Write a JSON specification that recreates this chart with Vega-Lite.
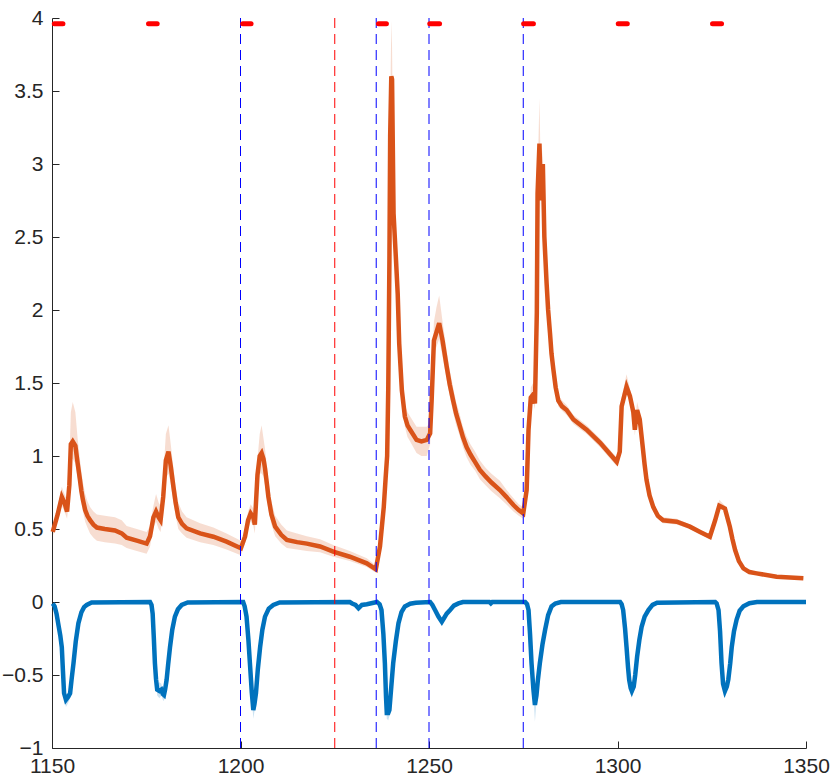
{
  "$schema": "https://vega.github.io/schema/vega-lite/v6.json",
  "description": "Two averaged traces with shaded error bands, event markers and dashed event lines.",
  "width": 754,
  "height": 730,
  "autosize": "none",
  "padding": {"left": 52, "top": 18, "right": 27, "bottom": 33},
  "background": "white",
  "datasets": {
    "orange": [
      {"x": 1150.2, "y": 0.48, "lo": 0.45, "hi": 0.51},
      {"x": 1151.5, "y": 0.6, "lo": 0.56, "hi": 0.65},
      {"x": 1152.6, "y": 0.72, "lo": 0.66, "hi": 0.79},
      {"x": 1153.3, "y": 0.68, "lo": 0.62, "hi": 0.74},
      {"x": 1154.0, "y": 0.62, "lo": 0.57, "hi": 0.7},
      {"x": 1154.6, "y": 0.8, "lo": 0.72, "hi": 0.95},
      {"x": 1155.0, "y": 1.08, "lo": 0.98, "hi": 1.3},
      {"x": 1155.5, "y": 1.1, "lo": 0.98, "hi": 1.37},
      {"x": 1156.2, "y": 1.07, "lo": 0.95, "hi": 1.3},
      {"x": 1156.8, "y": 0.95, "lo": 0.85, "hi": 1.12},
      {"x": 1157.4, "y": 0.84, "lo": 0.75, "hi": 0.98},
      {"x": 1157.8, "y": 0.76, "lo": 0.68, "hi": 0.89},
      {"x": 1158.2, "y": 0.7, "lo": 0.62, "hi": 0.82},
      {"x": 1158.8, "y": 0.63, "lo": 0.55, "hi": 0.74},
      {"x": 1159.4, "y": 0.59, "lo": 0.51, "hi": 0.69},
      {"x": 1160.1, "y": 0.56, "lo": 0.47, "hi": 0.65},
      {"x": 1161.0, "y": 0.53, "lo": 0.44, "hi": 0.62},
      {"x": 1161.9, "y": 0.51, "lo": 0.42, "hi": 0.6},
      {"x": 1164.0, "y": 0.5, "lo": 0.41, "hi": 0.59},
      {"x": 1166.7, "y": 0.49, "lo": 0.4, "hi": 0.58},
      {"x": 1168.5, "y": 0.47, "lo": 0.39, "hi": 0.56},
      {"x": 1169.8, "y": 0.44, "lo": 0.37, "hi": 0.52},
      {"x": 1172.5, "y": 0.42, "lo": 0.35, "hi": 0.5},
      {"x": 1175.1, "y": 0.4, "lo": 0.33, "hi": 0.48},
      {"x": 1176.0, "y": 0.45, "lo": 0.38, "hi": 0.52},
      {"x": 1176.9, "y": 0.58, "lo": 0.51, "hi": 0.66},
      {"x": 1177.6, "y": 0.62, "lo": 0.55, "hi": 0.74},
      {"x": 1178.3, "y": 0.58, "lo": 0.5, "hi": 0.68},
      {"x": 1178.8, "y": 0.56, "lo": 0.48, "hi": 0.66},
      {"x": 1179.5, "y": 0.72, "lo": 0.62, "hi": 0.86},
      {"x": 1180.2, "y": 0.97, "lo": 0.85, "hi": 1.15},
      {"x": 1180.9, "y": 1.03, "lo": 0.88, "hi": 1.21},
      {"x": 1181.5, "y": 0.93, "lo": 0.81, "hi": 1.08},
      {"x": 1182.2, "y": 0.79, "lo": 0.68, "hi": 0.92},
      {"x": 1182.8, "y": 0.68, "lo": 0.59, "hi": 0.79},
      {"x": 1183.5, "y": 0.58, "lo": 0.5, "hi": 0.68},
      {"x": 1184.5, "y": 0.535, "lo": 0.47, "hi": 0.62},
      {"x": 1185.7, "y": 0.505, "lo": 0.44, "hi": 0.58},
      {"x": 1189.3, "y": 0.47, "lo": 0.41, "hi": 0.54},
      {"x": 1192.8, "y": 0.447, "lo": 0.39, "hi": 0.51},
      {"x": 1196.3, "y": 0.413, "lo": 0.36, "hi": 0.47},
      {"x": 1200.1, "y": 0.368, "lo": 0.32, "hi": 0.42},
      {"x": 1201.2, "y": 0.447, "lo": 0.4, "hi": 0.5},
      {"x": 1202.0, "y": 0.56, "lo": 0.5, "hi": 0.62},
      {"x": 1202.7, "y": 0.607, "lo": 0.55, "hi": 0.67},
      {"x": 1203.4, "y": 0.58, "lo": 0.52, "hi": 0.64},
      {"x": 1203.8, "y": 0.53, "lo": 0.47, "hi": 0.6},
      {"x": 1204.5, "y": 0.87, "lo": 0.78, "hi": 0.98},
      {"x": 1205.1, "y": 1.0, "lo": 0.88, "hi": 1.15},
      {"x": 1205.6, "y": 1.02, "lo": 0.88, "hi": 1.21},
      {"x": 1206.1, "y": 0.98, "lo": 0.86, "hi": 1.12},
      {"x": 1206.5, "y": 0.916, "lo": 0.8, "hi": 1.05},
      {"x": 1207.0, "y": 0.81, "lo": 0.71, "hi": 0.93},
      {"x": 1207.4, "y": 0.72, "lo": 0.63, "hi": 0.83},
      {"x": 1208.2, "y": 0.6, "lo": 0.53, "hi": 0.69},
      {"x": 1209.2, "y": 0.516, "lo": 0.45, "hi": 0.59},
      {"x": 1210.8, "y": 0.46, "lo": 0.4, "hi": 0.53},
      {"x": 1212.3, "y": 0.425, "lo": 0.37, "hi": 0.49},
      {"x": 1215.0, "y": 0.41, "lo": 0.36, "hi": 0.47},
      {"x": 1217.6, "y": 0.4, "lo": 0.35, "hi": 0.45},
      {"x": 1221.1, "y": 0.38, "lo": 0.34, "hi": 0.43},
      {"x": 1224.6, "y": 0.345, "lo": 0.31, "hi": 0.39},
      {"x": 1229.0, "y": 0.31, "lo": 0.28, "hi": 0.35},
      {"x": 1233.5, "y": 0.265, "lo": 0.24, "hi": 0.3},
      {"x": 1235.9, "y": 0.224, "lo": 0.2, "hi": 0.25},
      {"x": 1237.0, "y": 0.38, "lo": 0.35, "hi": 0.42},
      {"x": 1238.0, "y": 0.65, "lo": 0.6, "hi": 0.7},
      {"x": 1238.5, "y": 0.85, "lo": 0.8, "hi": 0.9},
      {"x": 1238.9, "y": 1.0, "lo": 0.95, "hi": 1.05},
      {"x": 1239.2, "y": 1.47, "lo": 1.4, "hi": 1.55},
      {"x": 1239.5, "y": 2.34, "lo": 2.25, "hi": 2.45},
      {"x": 1239.7, "y": 3.19, "lo": 3.05, "hi": 3.35},
      {"x": 1240.0, "y": 3.6, "lo": 3.45, "hi": 3.98},
      {"x": 1240.2, "y": 3.58, "lo": 3.45, "hi": 3.8},
      {"x": 1240.4, "y": 3.12, "lo": 3.0, "hi": 3.3},
      {"x": 1240.6, "y": 2.66, "lo": 2.55, "hi": 2.8},
      {"x": 1241.2, "y": 2.365, "lo": 2.28, "hi": 2.45},
      {"x": 1241.7, "y": 2.11, "lo": 2.03, "hi": 2.19},
      {"x": 1242.1, "y": 1.77, "lo": 1.7, "hi": 1.85},
      {"x": 1242.8, "y": 1.45, "lo": 1.38, "hi": 1.52},
      {"x": 1243.6, "y": 1.27, "lo": 1.2, "hi": 1.35},
      {"x": 1244.3, "y": 1.21, "lo": 1.13, "hi": 1.3},
      {"x": 1245.0, "y": 1.18, "lo": 1.1, "hi": 1.27},
      {"x": 1246.7, "y": 1.11, "lo": 1.02, "hi": 1.2},
      {"x": 1248.0, "y": 1.1, "lo": 1.0, "hi": 1.2},
      {"x": 1249.4, "y": 1.11, "lo": 1.0, "hi": 1.2},
      {"x": 1250.3, "y": 1.155, "lo": 1.08, "hi": 1.23},
      {"x": 1250.7, "y": 1.38, "lo": 1.3, "hi": 1.47},
      {"x": 1251.3, "y": 1.79, "lo": 1.7, "hi": 1.92},
      {"x": 1252.0, "y": 1.85, "lo": 1.75, "hi": 2.02},
      {"x": 1252.7, "y": 1.91, "lo": 1.8, "hi": 2.1},
      {"x": 1253.6, "y": 1.79, "lo": 1.68, "hi": 1.92},
      {"x": 1254.7, "y": 1.61, "lo": 1.52, "hi": 1.72},
      {"x": 1255.5, "y": 1.49, "lo": 1.41, "hi": 1.59},
      {"x": 1256.4, "y": 1.38, "lo": 1.3, "hi": 1.47},
      {"x": 1257.2, "y": 1.29, "lo": 1.21, "hi": 1.37},
      {"x": 1258.0, "y": 1.22, "lo": 1.15, "hi": 1.3},
      {"x": 1259.0, "y": 1.13, "lo": 1.06, "hi": 1.2},
      {"x": 1260.0, "y": 1.06, "lo": 0.99, "hi": 1.13},
      {"x": 1261.0, "y": 1.01, "lo": 0.94, "hi": 1.08},
      {"x": 1262.2, "y": 0.96, "lo": 0.9, "hi": 1.03},
      {"x": 1263.5, "y": 0.904, "lo": 0.84, "hi": 0.97},
      {"x": 1265.0, "y": 0.86, "lo": 0.8, "hi": 0.92},
      {"x": 1266.5, "y": 0.82, "lo": 0.76, "hi": 0.88},
      {"x": 1268.8, "y": 0.767, "lo": 0.71, "hi": 0.83},
      {"x": 1270.5, "y": 0.72, "lo": 0.67, "hi": 0.77},
      {"x": 1272.4, "y": 0.664, "lo": 0.62, "hi": 0.71},
      {"x": 1273.8, "y": 0.63, "lo": 0.59, "hi": 0.67},
      {"x": 1275.0, "y": 0.607, "lo": 0.57, "hi": 0.65},
      {"x": 1275.9, "y": 0.767, "lo": 0.73, "hi": 0.8},
      {"x": 1276.4, "y": 1.18, "lo": 1.14, "hi": 1.22},
      {"x": 1277.0, "y": 1.4, "lo": 1.35, "hi": 1.47},
      {"x": 1277.6, "y": 1.42, "lo": 1.37, "hi": 1.5},
      {"x": 1278.1, "y": 1.36, "lo": 1.32, "hi": 1.42},
      {"x": 1278.6, "y": 1.98, "lo": 1.92, "hi": 2.05},
      {"x": 1278.8, "y": 2.8, "lo": 2.72, "hi": 2.9},
      {"x": 1279.3, "y": 3.14, "lo": 3.05, "hi": 3.45},
      {"x": 1279.7, "y": 2.75, "lo": 2.67, "hi": 2.85},
      {"x": 1280.2, "y": 3.0, "lo": 2.92, "hi": 3.1},
      {"x": 1280.6, "y": 2.5, "lo": 2.44, "hi": 2.57},
      {"x": 1281.2, "y": 2.18, "lo": 2.13, "hi": 2.24},
      {"x": 1281.6, "y": 2.0, "lo": 1.95, "hi": 2.05},
      {"x": 1282.1, "y": 1.84, "lo": 1.8, "hi": 1.89},
      {"x": 1282.5, "y": 1.7, "lo": 1.66, "hi": 1.74},
      {"x": 1283.0, "y": 1.59, "lo": 1.55, "hi": 1.63},
      {"x": 1283.6, "y": 1.47, "lo": 1.43, "hi": 1.51},
      {"x": 1284.3, "y": 1.38, "lo": 1.34, "hi": 1.42},
      {"x": 1285.3, "y": 1.34, "lo": 1.31, "hi": 1.38},
      {"x": 1286.5, "y": 1.315, "lo": 1.28, "hi": 1.35},
      {"x": 1288.3, "y": 1.25, "lo": 1.22, "hi": 1.28},
      {"x": 1291.8, "y": 1.18, "lo": 1.15, "hi": 1.21},
      {"x": 1295.4, "y": 1.09, "lo": 1.06, "hi": 1.12},
      {"x": 1299.8, "y": 0.96, "lo": 0.93, "hi": 0.99},
      {"x": 1300.6, "y": 1.03, "lo": 1.0, "hi": 1.07},
      {"x": 1301.1, "y": 1.34, "lo": 1.3, "hi": 1.4},
      {"x": 1302.4, "y": 1.475, "lo": 1.43, "hi": 1.56},
      {"x": 1303.3, "y": 1.41, "lo": 1.37, "hi": 1.46},
      {"x": 1304.2, "y": 1.3, "lo": 1.26, "hi": 1.36},
      {"x": 1304.6, "y": 1.18, "lo": 1.14, "hi": 1.23},
      {"x": 1305.2, "y": 1.315, "lo": 1.27, "hi": 1.37},
      {"x": 1305.9, "y": 1.25, "lo": 1.21, "hi": 1.3},
      {"x": 1306.7, "y": 1.06, "lo": 1.03, "hi": 1.1},
      {"x": 1307.2, "y": 0.94, "lo": 0.91, "hi": 0.97},
      {"x": 1307.7, "y": 0.836, "lo": 0.81, "hi": 0.87},
      {"x": 1308.5, "y": 0.73, "lo": 0.71, "hi": 0.76},
      {"x": 1309.5, "y": 0.65, "lo": 0.63, "hi": 0.68},
      {"x": 1310.7, "y": 0.59, "lo": 0.57, "hi": 0.61},
      {"x": 1312.1, "y": 0.56, "lo": 0.54, "hi": 0.58},
      {"x": 1315.7, "y": 0.55, "lo": 0.53, "hi": 0.57},
      {"x": 1319.2, "y": 0.516, "lo": 0.5, "hi": 0.53},
      {"x": 1321.9, "y": 0.48, "lo": 0.465, "hi": 0.495},
      {"x": 1324.5, "y": 0.447, "lo": 0.43, "hi": 0.46},
      {"x": 1325.9, "y": 0.56, "lo": 0.54, "hi": 0.58},
      {"x": 1327.0, "y": 0.66, "lo": 0.64, "hi": 0.7},
      {"x": 1328.5, "y": 0.64, "lo": 0.62, "hi": 0.66},
      {"x": 1329.8, "y": 0.516, "lo": 0.5, "hi": 0.53},
      {"x": 1330.5, "y": 0.43, "lo": 0.415, "hi": 0.445},
      {"x": 1331.2, "y": 0.356, "lo": 0.345, "hi": 0.37},
      {"x": 1332.2, "y": 0.28, "lo": 0.27, "hi": 0.29},
      {"x": 1333.4, "y": 0.23, "lo": 0.22, "hi": 0.24},
      {"x": 1335.0, "y": 0.205, "lo": 0.198, "hi": 0.214},
      {"x": 1336.9, "y": 0.196, "lo": 0.19, "hi": 0.205},
      {"x": 1342.2, "y": 0.173, "lo": 0.167, "hi": 0.18},
      {"x": 1349.3, "y": 0.162, "lo": 0.156, "hi": 0.168}
    ],
    "blue": [
      {"x": 1150.2, "y": -0.01, "lo": -0.02, "hi": 0.0},
      {"x": 1150.7, "y": -0.03, "lo": -0.04, "hi": -0.02},
      {"x": 1151.2, "y": -0.08, "lo": -0.09, "hi": -0.07},
      {"x": 1151.8, "y": -0.17, "lo": -0.18, "hi": -0.16},
      {"x": 1152.2, "y": -0.23, "lo": -0.25, "hi": -0.21},
      {"x": 1152.6, "y": -0.31, "lo": -0.33, "hi": -0.29},
      {"x": 1152.9, "y": -0.47, "lo": -0.5, "hi": -0.45},
      {"x": 1153.2, "y": -0.625, "lo": -0.66, "hi": -0.6},
      {"x": 1153.7, "y": -0.67, "lo": -0.72, "hi": -0.64},
      {"x": 1154.3, "y": -0.65, "lo": -0.69, "hi": -0.62},
      {"x": 1154.8, "y": -0.625, "lo": -0.66, "hi": -0.6},
      {"x": 1155.2, "y": -0.53, "lo": -0.56, "hi": -0.51},
      {"x": 1155.7, "y": -0.42, "lo": -0.44, "hi": -0.4},
      {"x": 1156.3, "y": -0.27, "lo": -0.29, "hi": -0.25},
      {"x": 1157.0, "y": -0.146, "lo": -0.16, "hi": -0.13},
      {"x": 1157.8, "y": -0.07, "lo": -0.08, "hi": -0.06},
      {"x": 1158.5, "y": -0.035, "lo": -0.045, "hi": -0.025},
      {"x": 1159.2, "y": -0.02, "lo": -0.03, "hi": -0.01},
      {"x": 1160.5, "y": -0.004, "lo": -0.01, "hi": 0.0},
      {"x": 1176.0, "y": 0.0, "lo": -0.005, "hi": 0.005},
      {"x": 1176.4, "y": -0.02, "lo": -0.03, "hi": -0.01},
      {"x": 1176.7, "y": -0.08, "lo": -0.09, "hi": -0.07},
      {"x": 1177.0, "y": -0.24, "lo": -0.26, "hi": -0.22},
      {"x": 1177.3, "y": -0.42, "lo": -0.45, "hi": -0.4},
      {"x": 1177.6, "y": -0.53, "lo": -0.56, "hi": -0.5},
      {"x": 1177.9, "y": -0.6, "lo": -0.64, "hi": -0.56},
      {"x": 1178.5, "y": -0.61, "lo": -0.66, "hi": -0.55},
      {"x": 1179.0, "y": -0.6, "lo": -0.64, "hi": -0.56},
      {"x": 1179.4, "y": -0.63, "lo": -0.67, "hi": -0.6},
      {"x": 1179.7, "y": -0.637, "lo": -0.68, "hi": -0.6},
      {"x": 1180.0, "y": -0.6, "lo": -0.63, "hi": -0.57},
      {"x": 1180.4, "y": -0.534, "lo": -0.56, "hi": -0.51},
      {"x": 1180.8, "y": -0.43, "lo": -0.45, "hi": -0.41},
      {"x": 1181.3, "y": -0.31, "lo": -0.33, "hi": -0.29},
      {"x": 1181.9, "y": -0.19, "lo": -0.2, "hi": -0.18},
      {"x": 1182.6, "y": -0.1, "lo": -0.11, "hi": -0.09},
      {"x": 1183.4, "y": -0.05, "lo": -0.06, "hi": -0.04},
      {"x": 1184.4, "y": -0.02, "lo": -0.03, "hi": -0.01},
      {"x": 1186.0, "y": -0.003, "lo": -0.008, "hi": 0.002},
      {"x": 1200.7, "y": 0.0, "lo": -0.005, "hi": 0.005},
      {"x": 1201.1, "y": -0.03, "lo": -0.04, "hi": -0.02},
      {"x": 1201.6, "y": -0.1, "lo": -0.11, "hi": -0.09},
      {"x": 1202.1, "y": -0.26, "lo": -0.28, "hi": -0.24},
      {"x": 1202.5, "y": -0.42, "lo": -0.45, "hi": -0.4},
      {"x": 1203.0, "y": -0.62, "lo": -0.66, "hi": -0.59},
      {"x": 1203.4, "y": -0.74, "lo": -0.8, "hi": -0.7},
      {"x": 1203.7, "y": -0.7, "lo": -0.75, "hi": -0.66},
      {"x": 1204.1, "y": -0.625, "lo": -0.66, "hi": -0.59},
      {"x": 1204.6, "y": -0.46, "lo": -0.48, "hi": -0.44},
      {"x": 1205.2, "y": -0.31, "lo": -0.33, "hi": -0.29},
      {"x": 1205.8, "y": -0.19, "lo": -0.2, "hi": -0.18},
      {"x": 1206.5, "y": -0.1, "lo": -0.11, "hi": -0.09},
      {"x": 1207.5, "y": -0.045, "lo": -0.055, "hi": -0.035},
      {"x": 1208.7, "y": -0.02, "lo": -0.03, "hi": -0.01},
      {"x": 1210.4, "y": -0.003, "lo": -0.008, "hi": 0.002},
      {"x": 1229.0, "y": 0.0, "lo": -0.005, "hi": 0.005},
      {"x": 1229.6, "y": -0.01, "lo": -0.015, "hi": -0.005},
      {"x": 1230.5, "y": -0.02, "lo": -0.03, "hi": -0.01},
      {"x": 1231.3, "y": -0.043, "lo": -0.055, "hi": -0.035},
      {"x": 1232.2, "y": -0.02, "lo": -0.03, "hi": -0.01},
      {"x": 1233.5, "y": -0.015, "lo": -0.02, "hi": -0.01},
      {"x": 1236.2, "y": 0.0, "lo": -0.005, "hi": 0.005},
      {"x": 1236.9, "y": -0.015, "lo": -0.02, "hi": -0.01},
      {"x": 1237.4, "y": -0.055, "lo": -0.065, "hi": -0.045},
      {"x": 1237.9, "y": -0.22, "lo": -0.24, "hi": -0.2},
      {"x": 1238.3, "y": -0.42, "lo": -0.45, "hi": -0.4},
      {"x": 1238.6, "y": -0.65, "lo": -0.69, "hi": -0.62},
      {"x": 1238.8, "y": -0.76, "lo": -0.8, "hi": -0.72},
      {"x": 1239.2, "y": -0.76, "lo": -0.81, "hi": -0.72},
      {"x": 1239.5, "y": -0.74, "lo": -0.78, "hi": -0.7},
      {"x": 1240.0, "y": -0.58, "lo": -0.61, "hi": -0.56},
      {"x": 1240.5, "y": -0.42, "lo": -0.44, "hi": -0.4},
      {"x": 1241.2, "y": -0.27, "lo": -0.29, "hi": -0.25},
      {"x": 1241.9, "y": -0.146, "lo": -0.16, "hi": -0.13},
      {"x": 1242.7, "y": -0.07, "lo": -0.08, "hi": -0.06},
      {"x": 1243.6, "y": -0.03, "lo": -0.04, "hi": -0.02},
      {"x": 1245.0, "y": -0.012, "lo": -0.02, "hi": -0.005},
      {"x": 1246.5, "y": -0.005, "lo": -0.01, "hi": 0.0},
      {"x": 1250.3, "y": 0.0, "lo": -0.005, "hi": 0.005},
      {"x": 1250.9, "y": -0.02, "lo": -0.03, "hi": -0.01},
      {"x": 1251.6, "y": -0.055, "lo": -0.065, "hi": -0.045},
      {"x": 1252.5, "y": -0.1, "lo": -0.11, "hi": -0.09},
      {"x": 1253.4, "y": -0.135, "lo": -0.15, "hi": -0.12},
      {"x": 1254.0, "y": -0.11, "lo": -0.12, "hi": -0.1},
      {"x": 1254.7, "y": -0.08, "lo": -0.09, "hi": -0.07},
      {"x": 1255.6, "y": -0.055, "lo": -0.065, "hi": -0.045},
      {"x": 1256.6, "y": -0.025, "lo": -0.035, "hi": -0.015},
      {"x": 1257.8, "y": -0.01, "lo": -0.015, "hi": -0.005},
      {"x": 1259.0, "y": 0.0, "lo": -0.005, "hi": 0.005},
      {"x": 1266.0, "y": 0.0, "lo": -0.005, "hi": 0.005},
      {"x": 1266.4, "y": -0.01, "lo": -0.015, "hi": -0.005},
      {"x": 1266.8, "y": 0.0, "lo": -0.005, "hi": 0.005},
      {"x": 1275.5, "y": 0.0, "lo": -0.005, "hi": 0.005},
      {"x": 1276.0, "y": -0.015, "lo": -0.02, "hi": -0.01},
      {"x": 1276.4, "y": -0.055, "lo": -0.065, "hi": -0.045},
      {"x": 1276.8, "y": -0.22, "lo": -0.24, "hi": -0.2},
      {"x": 1277.2, "y": -0.42, "lo": -0.45, "hi": -0.4},
      {"x": 1277.7, "y": -0.6, "lo": -0.64, "hi": -0.57},
      {"x": 1278.1, "y": -0.705, "lo": -0.82, "hi": -0.67},
      {"x": 1278.5, "y": -0.64, "lo": -0.68, "hi": -0.6},
      {"x": 1278.9, "y": -0.53, "lo": -0.55, "hi": -0.51},
      {"x": 1279.4, "y": -0.42, "lo": -0.44, "hi": -0.4},
      {"x": 1280.1, "y": -0.29, "lo": -0.31, "hi": -0.27},
      {"x": 1280.8, "y": -0.19, "lo": -0.2, "hi": -0.18},
      {"x": 1281.6, "y": -0.09, "lo": -0.1, "hi": -0.08},
      {"x": 1282.5, "y": -0.03, "lo": -0.04, "hi": -0.02},
      {"x": 1283.5, "y": -0.01, "lo": -0.015, "hi": -0.005},
      {"x": 1285.0, "y": 0.0, "lo": -0.005, "hi": 0.005},
      {"x": 1300.7, "y": 0.0, "lo": -0.005, "hi": 0.005},
      {"x": 1301.1, "y": -0.015, "lo": -0.02, "hi": -0.01},
      {"x": 1301.5, "y": -0.055, "lo": -0.065, "hi": -0.045},
      {"x": 1302.0, "y": -0.18, "lo": -0.19, "hi": -0.17},
      {"x": 1302.4, "y": -0.31, "lo": -0.33, "hi": -0.29},
      {"x": 1302.8, "y": -0.45, "lo": -0.47, "hi": -0.43},
      {"x": 1303.1, "y": -0.534, "lo": -0.56, "hi": -0.51},
      {"x": 1303.5, "y": -0.59, "lo": -0.63, "hi": -0.56},
      {"x": 1303.8, "y": -0.61, "lo": -0.66, "hi": -0.58},
      {"x": 1304.3, "y": -0.58, "lo": -0.61, "hi": -0.55},
      {"x": 1304.7, "y": -0.5, "lo": -0.52, "hi": -0.48},
      {"x": 1305.2, "y": -0.375, "lo": -0.39, "hi": -0.36},
      {"x": 1305.8, "y": -0.26, "lo": -0.27, "hi": -0.25},
      {"x": 1306.4, "y": -0.17, "lo": -0.18, "hi": -0.16},
      {"x": 1307.2, "y": -0.1, "lo": -0.11, "hi": -0.09},
      {"x": 1308.2, "y": -0.055, "lo": -0.065, "hi": -0.045},
      {"x": 1309.3, "y": -0.02, "lo": -0.03, "hi": -0.01},
      {"x": 1310.5, "y": -0.005, "lo": -0.01, "hi": 0.0},
      {"x": 1325.9, "y": 0.0, "lo": -0.005, "hi": 0.005},
      {"x": 1326.3, "y": -0.01, "lo": -0.015, "hi": -0.005},
      {"x": 1326.8, "y": -0.055, "lo": -0.065, "hi": -0.045},
      {"x": 1327.2, "y": -0.2, "lo": -0.21, "hi": -0.19},
      {"x": 1327.6, "y": -0.42, "lo": -0.45, "hi": -0.4},
      {"x": 1328.0, "y": -0.56, "lo": -0.59, "hi": -0.53},
      {"x": 1328.5, "y": -0.61, "lo": -0.66, "hi": -0.58},
      {"x": 1329.0, "y": -0.58, "lo": -0.61, "hi": -0.55},
      {"x": 1329.4, "y": -0.53, "lo": -0.55, "hi": -0.51},
      {"x": 1329.9, "y": -0.42, "lo": -0.44, "hi": -0.4},
      {"x": 1330.3, "y": -0.31, "lo": -0.33, "hi": -0.29},
      {"x": 1330.9, "y": -0.2, "lo": -0.21, "hi": -0.19},
      {"x": 1331.6, "y": -0.12, "lo": -0.13, "hi": -0.11},
      {"x": 1332.4, "y": -0.06, "lo": -0.07, "hi": -0.05},
      {"x": 1333.4, "y": -0.03, "lo": -0.04, "hi": -0.02},
      {"x": 1335.0, "y": -0.008, "lo": -0.013, "hi": -0.003},
      {"x": 1337.0, "y": 0.0, "lo": -0.005, "hi": 0.005},
      {"x": 1350.0, "y": 0.0, "lo": -0.005, "hi": 0.005}
    ],
    "events": [
      {"t": 1200, "kind": "cue"},
      {"t": 1225, "kind": "stim"},
      {"t": 1236, "kind": "cue"},
      {"t": 1250, "kind": "cue"},
      {"t": 1275, "kind": "cue"}
    ],
    "pulses": [
      {"start": 1150.6, "end": 1152.9, "level": 3.96},
      {"start": 1175.6, "end": 1177.9, "level": 3.96},
      {"start": 1200.6, "end": 1202.8, "level": 3.96},
      {"start": 1236.6, "end": 1238.7, "level": 3.96},
      {"start": 1250.2, "end": 1252.8, "level": 3.96},
      {"start": 1275.1, "end": 1277.7, "level": 3.96},
      {"start": 1300.2, "end": 1302.6, "level": 3.96},
      {"start": 1325.2, "end": 1327.6, "level": 3.96}
    ]
  },
  "layer": [
    {
      "data": {"name": "orange"},
      "mark": {"type": "area", "color": "#D95319", "opacity": 0.2},
      "encoding": {
        "x": {
          "field": "x",
          "type": "quantitative",
          "title": null,
          "scale": {"domain": [1150, 1350], "nice": false, "zero": false},
          "axis": {"values": [1150, 1200, 1250, 1300, 1350], "format": "d"}
        },
        "y": {
          "field": "lo",
          "type": "quantitative",
          "title": null,
          "scale": {"domain": [-1, 4], "nice": false, "zero": false},
          "axis": {"values": [-1, -0.5, 0, 0.5, 1, 1.5, 2, 2.5, 3, 3.5, 4], "format": "~g"}
        },
        "y2": {"field": "hi"}
      }
    },
    {
      "data": {"name": "blue"},
      "mark": {"type": "area", "color": "#0072BD", "opacity": 0.2},
      "encoding": {
        "x": {"field": "x", "type": "quantitative", "title": null},
        "y": {"field": "lo", "type": "quantitative", "title": null},
        "y2": {"field": "hi"}
      }
    },
    {
      "data": {"name": "orange"},
      "mark": {"type": "line", "color": "#D95319", "strokeWidth": 4.5},
      "encoding": {
        "x": {"field": "x", "type": "quantitative", "title": null},
        "y": {"field": "y", "type": "quantitative", "title": null}
      }
    },
    {
      "data": {"name": "blue"},
      "mark": {"type": "line", "color": "#0072BD", "strokeWidth": 4.5},
      "encoding": {
        "x": {"field": "x", "type": "quantitative", "title": null},
        "y": {"field": "y", "type": "quantitative", "title": null}
      }
    },
    {
      "data": {"name": "events"},
      "mark": {"type": "rule", "strokeWidth": 1, "strokeDash": [10, 6]},
      "encoding": {
        "x": {"field": "t", "type": "quantitative", "title": null},
        "color": {
          "field": "kind",
          "type": "nominal",
          "scale": {"domain": ["cue", "stim"], "range": ["#0000FF", "#FF0000"]},
          "legend": null
        }
      }
    },
    {
      "data": {"name": "pulses"},
      "mark": {"type": "rule", "color": "#FF0000", "strokeWidth": 5, "strokeCap": "round"},
      "encoding": {
        "x": {"field": "start", "type": "quantitative", "title": null},
        "x2": {"field": "end"},
        "y": {"field": "level", "type": "quantitative", "title": null}
      }
    }
  ],
  "config": {
    "view": {"stroke": null},
    "axis": {
      "grid": false,
      "domainColor": "#262626",
      "domainWidth": 1,
      "tickColor": "#262626",
      "tickSize": -7,
      "labelColor": "#262626",
      "labelFont": "Liberation Sans",
      "labelFontSize": 21,
      "labelFlush": false,
      "labelOverlap": false
    },
    "axisX": {"labelPadding": 14},
    "axisY": {"labelPadding": 16}
  }
}
